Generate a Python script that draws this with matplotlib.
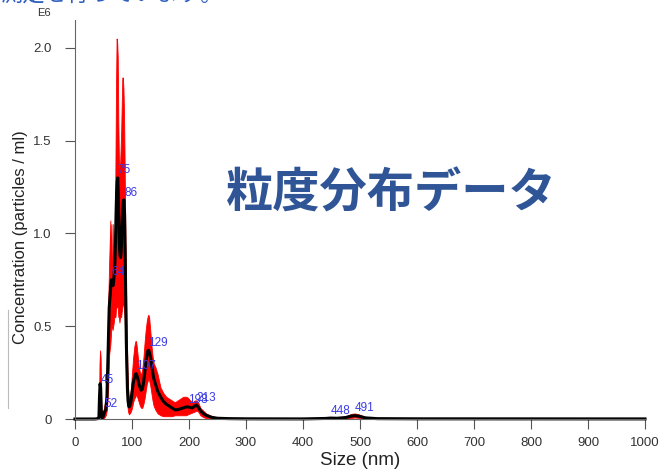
import numpy as np
import matplotlib
matplotlib.use("Agg")
import matplotlib.pyplot as plt
from matplotlib.lines import Line2D

plt.rcParams['font.family'] = ['Liberation Sans', 'Noto Sans CJK JP', 'DejaVu Sans']

# particle size distribution (x1e6 particles/ml)
size_nm = [0, 35, 40, 42, 43, 44, 45, 46, 47, 49, 52, 54, 56, 58, 60, 62, 63, 64, 65, 66,
           67, 68, 69, 70, 71, 72, 73, 74, 75, 76, 77, 78, 79, 80, 81, 82, 83, 84, 85, 86,
           87, 88, 89, 90, 91, 92, 93, 94, 95, 96, 98, 100, 102, 104, 106, 107, 108, 110, 112, 114,
           116, 118, 120, 122, 124, 126, 128, 129, 130, 132, 134, 136, 138, 141, 145, 150, 155, 160, 165, 170,
           175, 180, 185, 190, 195, 198, 202, 206, 210, 213, 216, 220, 225, 230, 240, 250, 270, 300, 400, 440,
           448, 460, 475, 485, 491, 498, 510, 530, 600, 1000]
conc_mean = [0, 0, 0.002, 0.01, 0.12, 0.19, 0.17, 0.05, 0.005, 0.01, 0.04, 0.05, 0.12, 0.35, 0.60, 0.68, 0.72, 0.75, 0.74, 0.72,
             0.72, 0.75, 0.80, 0.84, 0.95, 1.10, 1.22, 1.28, 1.30, 1.20, 1.05, 0.93, 0.88, 0.87, 0.90, 0.98, 1.08, 1.15, 1.18, 1.18,
             1.10, 0.90, 0.65, 0.42, 0.28, 0.16, 0.10, 0.075, 0.065, 0.07, 0.09, 0.14, 0.19, 0.22, 0.24, 0.245, 0.24, 0.22, 0.19, 0.17,
             0.155, 0.16, 0.19, 0.24, 0.30, 0.34, 0.37, 0.37, 0.365, 0.34, 0.30, 0.26, 0.22, 0.19, 0.15, 0.12, 0.095, 0.08, 0.07, 0.06,
             0.05, 0.05, 0.055, 0.06, 0.065, 0.065, 0.062, 0.06, 0.07, 0.075, 0.065, 0.045, 0.03, 0.02, 0.009, 0.004, 0.002, 0.001, 0.0005, 0.003,
             0.005, 0.004, 0.008, 0.016, 0.018, 0.015, 0.006, 0.002, 0.001, 0.0005]
conc_lo = [0, 0, 0, 0, 0.05, 0.08, 0.06, 0.01, 0, 0, 0.01, 0.02, 0.05, 0.15, 0.35, 0.40, 0.45, 0.50, 0.50, 0.48,
           0.50, 0.52, 0.55, 0.55, 0.55, 0.60, 0.60, 0.62, 0.60, 0.55, 0.55, 0.52, 0.55, 0.55, 0.55, 0.58, 0.60, 0.62, 0.62, 0.60,
           0.55, 0.45, 0.30, 0.20, 0.12, 0.07, 0.04, 0.03, 0.025, 0.03, 0.04, 0.06, 0.09, 0.11, 0.12, 0.13, 0.13, 0.11, 0.09, 0.07,
           0.06, 0.06, 0.08, 0.11, 0.15, 0.19, 0.21, 0.22, 0.21, 0.18, 0.14, 0.10, 0.07, 0.05, 0.03, 0.02, 0.015, 0.015, 0.015, 0.015,
           0.02, 0.02, 0.02, 0.02, 0.02, 0.025, 0.03, 0.035, 0.04, 0.045, 0.04, 0.02, 0.01, 0.005, 0.002, 0.001, 0, 0, 0, 0,
           0.001, 0.001, 0.002, 0.006, 0.008, 0.006, 0.002, 0, 0, 0]
conc_hi = [0, 0, 0.005, 0.03, 0.30, 0.37, 0.33, 0.10, 0.02, 0.03, 0.08, 0.10, 0.25, 0.60, 0.85, 1.07, 0.75, 1.05, 0.80, 0.78,
           1.05, 0.80, 0.90, 0.95, 1.40, 1.80, 2.05, 2.03, 1.95, 1.60, 1.40, 1.35, 1.36, 1.45, 1.55, 1.70, 1.84, 1.84, 1.78, 1.65,
           1.40, 1.10, 0.85, 0.60, 0.42, 0.28, 0.18, 0.13, 0.12, 0.12, 0.16, 0.25, 0.33, 0.39, 0.42, 0.42, 0.40, 0.34, 0.28, 0.25,
           0.24, 0.27, 0.33, 0.41, 0.48, 0.53, 0.56, 0.56, 0.55, 0.48, 0.40, 0.34, 0.30, 0.28, 0.24, 0.17, 0.14, 0.12, 0.11, 0.10,
           0.09, 0.10, 0.11, 0.12, 0.12, 0.115, 0.10, 0.09, 0.10, 0.10, 0.09, 0.06, 0.045, 0.03, 0.015, 0.008, 0.003, 0.002, 0.001, 0.006,
           0.008, 0.007, 0.015, 0.028, 0.03, 0.025, 0.01, 0.004, 0.002, 0.001]

peak_labels = [45, 52, 64, 75, 86, 107, 129, 198, 213, 448, 491]

xticks = [0, 100, 200, 300, 400, 500, 600, 700, 800, 900, 1000]
yticks = [0, 0.5, 1.0, 1.5, 2.0]
ytick_labels = ['0', '0.5', '1.0', '1.5', '2.0']

fig = plt.figure(figsize=(6.64, 4.72), dpi=100)
ax = fig.add_axes([75/664, 53/472, 570/664, 399/472])

ax.fill_between(size_nm, conc_lo, conc_hi, color='#ff0000', linewidth=0.6, edgecolor='#ff0000')
ax.plot(size_nm, conc_mean, color='black', lw=2.2, solid_joinstyle='round', clip_on=False)

for p in peak_labels:
    yv = np.interp(p, size_nm, conc_mean)
    ax.annotate(str(p), (p, yv), xytext=(0, 1), textcoords='offset points',
                ha='left', va='bottom', fontsize=8.5, color='#3b3be6')

ax.set_xlim(0, 1000)
ax.set_ylim(0, 2.15)
ax.set_xticks(xticks)
ax.set_yticks(yticks)
ax.set_yticklabels(ytick_labels)
ax.tick_params(axis='both', length=7, width=0.8, color='#555555', labelcolor='#333333', labelsize=9.5)
ax.tick_params(axis='x', pad=6)
ax.tick_params(axis='y', pad=10)
for s in ['top', 'right']:
    ax.spines[s].set_visible(False)
for s in ['left', 'bottom']:
    ax.spines[s].set_color('#666666')
    ax.spines[s].set_linewidth(0.8)

ax.set_xlabel('Size (nm)', fontsize=13.5, color='#222222', labelpad=2)
ax.set_ylabel('Concentration (particles / ml)', fontsize=12, color='#222222')
ax.yaxis.set_label_coords(-0.083, 0.455)

fig.text(37/664, 1 - 13/472, 'E6', fontsize=8, color='#333333', va='center', ha='left')

# slide overlay text
fig.text(226/664, 1 - 194/472, '粒度分布データ', fontsize=34, fontweight='bold',
         color='#2f5597', family=['Noto Sans CJK JP'], va='center', ha='left')
fig.text(0, 1 + 6/472, '測定を行っています。', fontsize=16, color='#2f5fc0',
         family=['Noto Sans CJK JP'], va='center', ha='left')
fig.add_artist(Line2D([8/664, 8/664], [1 - 310/472, 1 - 408/472], color='#bbbbbb', lw=0.8))

fig.savefig('out.png', dpi=100)
